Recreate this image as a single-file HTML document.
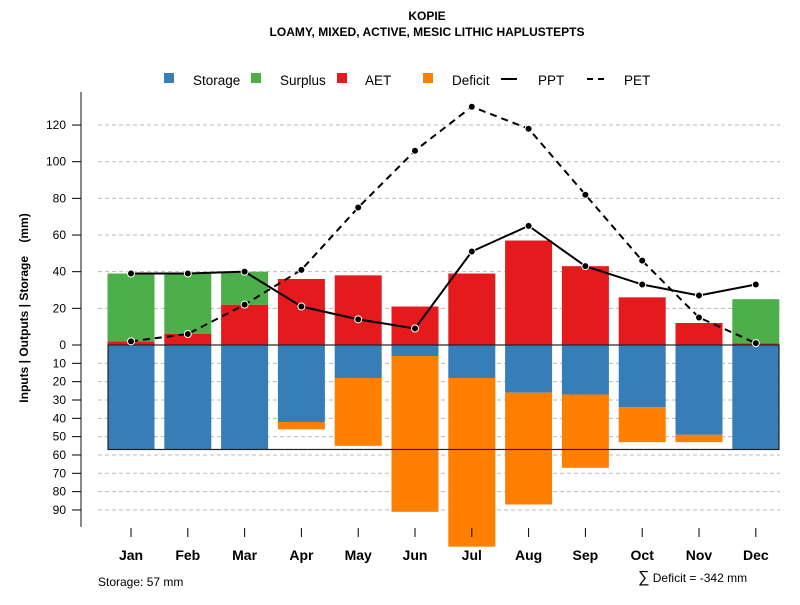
<!DOCTYPE html>
<html><head><meta charset="utf-8"><style>
body{margin:0;background:#fff;font-family:"Liberation Sans",sans-serif}
svg text{font-family:"Liberation Sans",sans-serif}
</style></head><body>
<svg id="c" width="800" height="600" xmlns="http://www.w3.org/2000/svg">
<text x="427" y="20" text-anchor="middle" font-size="12" font-weight="bold">KOPIE</text>
<text x="427" y="36" text-anchor="middle" font-size="12" font-weight="bold">LOAMY, MIXED, ACTIVE, MESIC LITHIC HAPLUSTEPTS</text>
<g id="legend" font-size="13.5">
<rect x="164" y="73" width="10" height="10" fill="#377EB8"/>
<text x="193" y="85">Storage</text>
<rect x="251" y="73" width="10" height="10" fill="#4DAF4A"/>
<text x="280" y="85">Surplus</text>
<rect x="337" y="73" width="10" height="10" fill="#E41A1C"/>
<text x="365" y="85">AET</text>
<rect x="423" y="73" width="10" height="10" fill="#FF7F00"/>
<text x="452" y="85">Deficit</text>
<line x1="501" y1="79" x2="517" y2="79" stroke="#000" stroke-width="2"/>
<text x="538" y="85">PPT</text>
<line x1="587" y1="79" x2="609" y2="79" stroke="#000" stroke-width="2" stroke-dasharray="6,5"/>
<text x="624" y="85">PET</text>
</g>
<text transform="translate(28,308) rotate(-90)" text-anchor="middle" font-size="12" font-weight="bold">Inputs | Outputs | Storage&#160;&#160;&#160;&#160;(mm)</text>
<text x="98" y="586" font-size="12">Storage: 57 mm</text>
<text x="638" y="582" font-size="12"><tspan font-size="16">∑</tspan> Deficit = -342 mm</text>
</svg>
<script>
const months=["Jan","Feb","Mar","Apr","May","Jun","Jul","Aug","Sep","Oct","Nov","Dec"];
const ppt=[39,39,40,21,14,9,51,65,43,33,27,33];
const pet=[2,6,22,41,75,106,130,118,82,46,15,1];
const aet=[2,6,22,36,38,21,39,57,43,26,12,1];
const surplus=[37,33,18,0,0,0,0,0,0,0,0,24];
const storage=[57,57,57,42,18,6,18,26,27,34,49,57];
const deficit=[0,0,0,4,37,85,92,61,40,19,4,0];
const posTicks=[0,20,40,60,80,100,120];
const negTicks=[10,20,30,40,50,60,70,80,90];
const NS="http://www.w3.org/2000/svg";
const svg=document.getElementById('c');
const y=v=>345-v*1.833;
const x=i=>131+i*56.8;
const bw=47;
function el(t,a,p){const e=document.createElementNS(NS,t);for(const k in a)e.setAttribute(k,a[k]);(p||svg).appendChild(e);return e;}
const grid=el('g',{});


posTicks.concat(negTicks.map(v=>-v)).forEach(v=>{
 if(v===0)return;
 const l=el('line',{x1:98,x2:780,y1:y(v),y2:y(v),stroke:'#bbb','stroke-dasharray':'4,3'},grid);
 
 
});
const ax=el('g',{'font-size':12});


el('line',{x1:81,x2:81,y1:92,y2:527,stroke:'#888','stroke-width':2},ax);
posTicks.forEach(v=>{el('line',{x1:72,x2:81,y1:y(v),y2:y(v),stroke:'#000'},ax);
 const t=el('text',{x:66,y:y(v)+4,'text-anchor':'end'},ax);t.textContent=v;
 
 });
negTicks.forEach(v=>{el('line',{x1:72,x2:81,y1:y(-v),y2:y(-v),stroke:'#000'},ax);
 const t=el('text',{x:66,y:y(-v)+4,'text-anchor':'end'},ax);t.textContent=v;
 
 });
const bars=el('g',{});


function bar(i,v0,v1,col,name){if(v1===v0)return;const r=el('rect',{x:x(i)-bw/2,y:Math.min(y(v0),y(v1)),width:bw,height:Math.abs(y(v1)-y(v0)),fill:col},bars);
 
 }
months.forEach((m,i)=>{
 bar(i,0,aet[i],'#E41A1C','bar-aet-'+m.toLowerCase());
 bar(i,aet[i],aet[i]+surplus[i],'#4DAF4A','bar-surplus-'+m.toLowerCase());
 bar(i,0,-storage[i],'#377EB8','bar-storage-'+m.toLowerCase());
 bar(i,-storage[i],-storage[i]-deficit[i],'#FF7F00','bar-deficit-'+m.toLowerCase());
});
const box=el('rect',{x:108,y:y(0),width:671,height:y(-57)-y(0),fill:'none',stroke:'#222','stroke-width':1.2});


const xa=el('g',{'font-size':14,'font-weight':'bold'});


months.forEach((m,i)=>{el('line',{x1:x(i),x2:x(i),y1:528,y2:537,stroke:'#000'},xa);
 const t=el('text',{x:x(i),y:560,'text-anchor':'middle'},xa);t.textContent=m;
 
 });
function series(d,dash,name){
 const g=el('g',{});
 
 
 const p=el('polyline',{points:d.map((v,i)=>x(i)+','+y(v)).join(' '),fill:'none',stroke:'#000','stroke-width':2,'stroke-dasharray':dash},g);
 
 
 d.forEach((v,i)=>{const c=el('circle',{cx:x(i),cy:y(v),r:3.5,fill:'#000',stroke:'#fff','stroke-width':1},g);
  
  });
}
series(pet,'7,5','pet');
series(ppt,'none','ppt');
</script>
</body></html>
